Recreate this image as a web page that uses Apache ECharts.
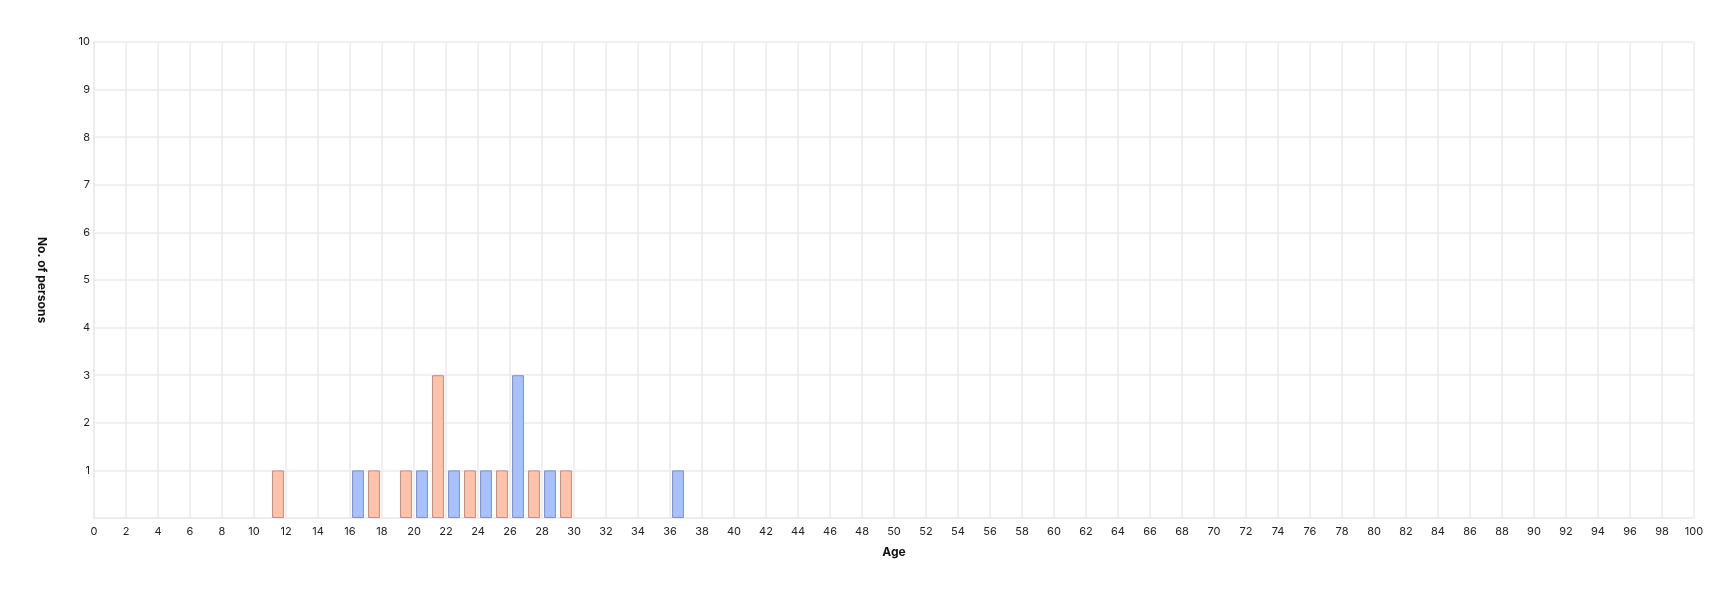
<!DOCTYPE html>
<html>
<head>
<meta charset="utf-8">
<script src="https://cdn.jsdelivr.net/npm/echarts@6/dist/echarts.min.js"></script>
<style>
html,body{margin:0;padding:0;background:#fff;}
#chart{width:1734px;height:594px;}
</style>
</head>
<body>
<div id="chart"></div>
<script>
// Series A (orange) ages and counts
const agesA = [11, 17, 19, 21, 23, 25, 27, 29];
const countsA = [1, 1, 1, 3, 1, 1, 1, 1];
// Series B (blue) ages and counts
const agesB = [16, 20, 22, 24, 26, 28, 36];
const countsB = [1, 1, 1, 1, 3, 1, 1];
// Axis ranges
const xMin = 0, xMax = 100, xStep = 2;
const yMin = 0, yMax = 10, yStep = 1;

const cats = [];
for (let i = xMin; i < xMax; i++) cats.push(String(i));
function toSeries(ages, counts) {
  const arr = cats.map(() => null);
  ages.forEach((a, i) => { arr[a - xMin] = counts[i]; });
  return arr;
}

const font = 'Inter, "Noto Sans", sans-serif';
const chart = echarts.init(document.getElementById('chart'), null, {renderer: 'canvas'});
chart.setOption({
  animation: false,
  backgroundColor: '#ffffff',
  grid: {left: 94, right: 40, top: 42, bottom: 76, containLabel: false},
  xAxis: [{
    type: 'value', min: xMin, max: xMax, interval: xStep,
    name: 'Age', nameLocation: 'middle', nameGap: 28,
    nameTextStyle: {fontFamily: font, fontWeight: 'bold', fontSize: 12, color: '#111'},
    axisLine: {show: true, lineStyle: {color: '#ebebeb', width: 1.5}},
    axisTick: {show: false},
    axisLabel: {fontFamily: font, fontSize: 11, color: '#222', margin: 8},
    splitLine: {show: true, lineStyle: {color: '#ebebeb', width: 1.5}}
  }, {
    type: 'category', data: cats, show: false, boundaryGap: true
  }],
  yAxis: {
    type: 'value', min: yMin, max: yMax, interval: yStep,
    name: 'No. of persons', nameLocation: 'middle', nameGap: 46, nameRotate: -90,
    nameTextStyle: {fontFamily: font, fontWeight: 'bold', fontSize: 12, color: '#111'},
    axisLine: {show: true, lineStyle: {color: '#ebebeb', width: 1.5}},
    axisTick: {show: false},
    axisLabel: {fontFamily: font, fontSize: 11, color: '#222', margin: 4, showMinLabel: false},
    splitLine: {show: true, lineStyle: {color: '#ebebeb', width: 1.5}}
  },
  series: [{
    type: 'bar', xAxisIndex: 1, data: toSeries(agesA, countsA),
    barWidth: '74%', barGap: '-100%',
    itemStyle: {color: '#fec4ab', borderColor: '#c98975', borderWidth: 1}
  }, {
    type: 'bar', xAxisIndex: 1, data: toSeries(agesB, countsB),
    barWidth: '74%', barGap: '-100%',
    itemStyle: {color: '#a9c1fd', borderColor: '#7790d0', borderWidth: 1}
  }]
});
</script>
</body>
</html>
